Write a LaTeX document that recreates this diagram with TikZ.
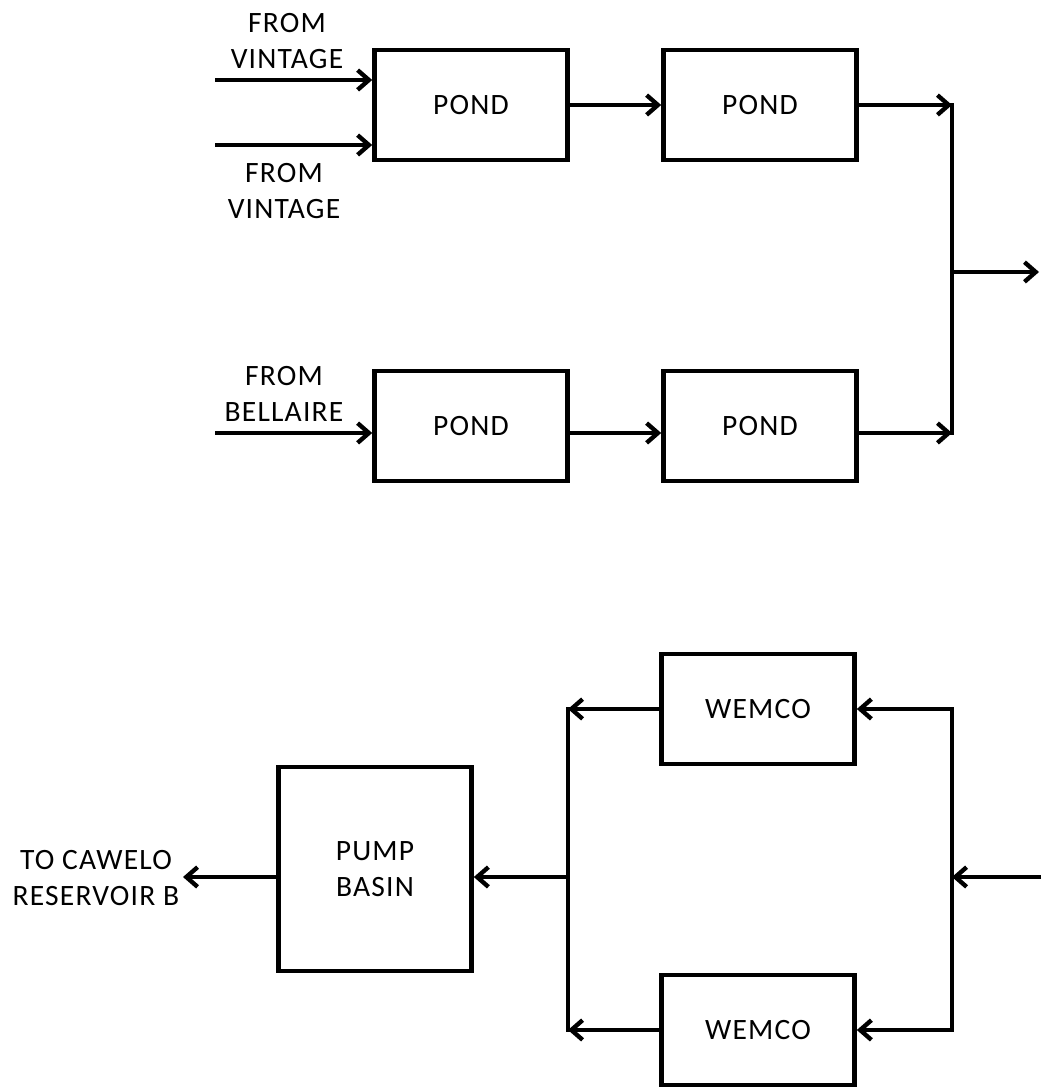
\documentclass[tikz,border=0pt]{standalone}
\usepackage{fontspec}
\setmainfont[LetterSpace=4]{Carlito}
\usepackage{tikz}
\usetikzlibrary{arrows.meta, positioning, calc}
\newcommand{\lblfont}{\fontsize{21}{26}\selectfont}
\tikzset{
  unit/.style={rectangle, draw=black, line width=3.4pt, minimum width=4.82cm,
               minimum height=2.75cm, align=center, font=\lblfont},
  flow/.style={draw=black, line width=3.1pt,
               -{Straight Barb[length=8pt, width=14pt]}},
  bus/.style={draw=black, line width=3.4pt, line cap=rect},
  tag/.style={align=center, font=\lblfont, inner sep=0pt},
}

\begin{document}
\begin{tikzpicture}[x=0.025cm, y=-0.025cm]
  \useasboundingbox (0,0) rectangle (1041,1089);

  \node[unit] (pondA) at (471,105) {POND};
  \node[unit] (pondB) at (760,105) {POND};
  \node[unit] (pondC) at (471,426) {POND};
  \node[unit] (pondD) at (760,426) {POND};

  \node[unit] (wemA) at (758,709) {WEMCO};
  \node[unit] (wemB) at (758,1030) {WEMCO};
  \node[unit, minimum height=5.1cm] (pump) at (375,869) {PUMP\\BASIN};

  \node[tag] (vinA) at (287,41) {FROM\\VINTAGE};
  \node[tag] (vinB) at (284,191) {FROM\\VINTAGE};
  \node[tag] (bell) at (284,394) {FROM\\BELLAIRE};
  \node[tag] (cawelo) at (96,878) {TO CAWELO\\RESERVOIR B};

  \coordinate (inA) at (215,80);
  \coordinate (inB) at (215,145);
  \coordinate (inC) at (215,433);
  \coordinate (jt) at (952,105);
  \coordinate (jb) at (952,433);
  \coordinate (jm) at (952,272);
  \coordinate (outR) at (1039,272);

  \coordinate (inR) at (1041,877);
  \coordinate (kt) at (952,709);
  \coordinate (km) at (952,877);
  \coordinate (kb) at (952,1030);
  \coordinate (lt) at (568,709);
  \coordinate (lm) at (568,877);
  \coordinate (lb) at (568,1030);
  \coordinate (outL) at (183,877);

  \draw[flow] (inA) -- (inA -| pondA.west);
  \draw[flow] (inB) -- (inB -| pondA.west);
  \draw[flow] (inC) -- (inC -| pondC.west);
  \draw[flow] (pondA) -- (pondB);
  \draw[flow] (inC -| pondC.east) -- (inC -| pondD.west);
  \draw[flow] (pondB) -- (jt);
  \draw[flow] (jb -| pondD.east) -- (jb);
  \draw[bus] (jt) -- (jb);
  \draw[flow] (jm) -- (outR);

  \draw[flow] (inR) -- (km);
  \draw[bus] (kt) -- (kb);
  \draw[flow] (kt) -- (wemA);
  \draw[flow] (kb) -- (wemB);
  \draw[flow] (wemA) -- (lt);
  \draw[flow] (wemB) -- (lb);
  \draw[bus] (lt) -- (lb);
  \draw[flow] (lm) -- (lm -| pump.east);
  \draw[flow] (lm -| pump.west) -- (outL);
\end{tikzpicture}
\end{document}
